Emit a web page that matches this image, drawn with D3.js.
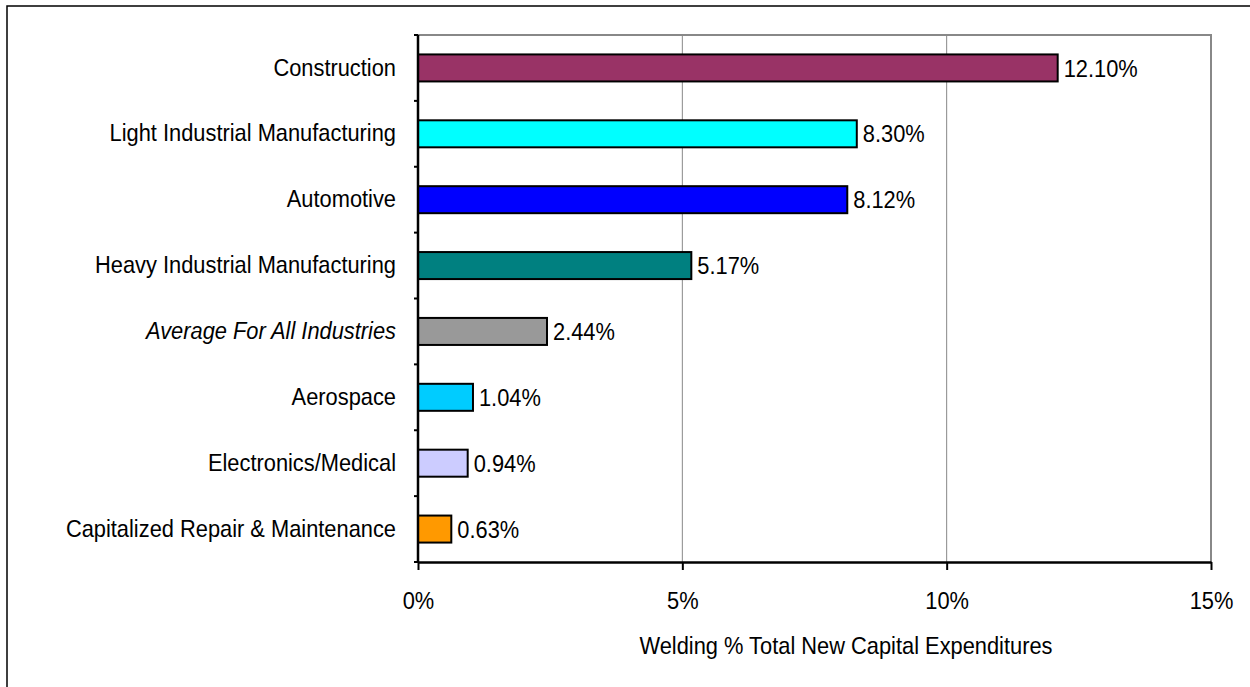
<!DOCTYPE html>
<html><head><meta charset="utf-8">
<script src="https://cdn.jsdelivr.net/npm/d3@7"></script>
<style>
html,body{margin:0;padding:0;background:#fff;}
svg{display:block;font-family:"Liberation Sans",Arial,sans-serif;}
</style></head>
<body><svg id="c" width="1250" height="687"></svg>
<script>
const categories = ["Construction","Light Industrial Manufacturing","Automotive","Heavy Industrial Manufacturing","Average For All Industries","Aerospace","Electronics/Medical","Capitalized Repair & Maintenance"];
const values = [12.10, 8.30, 8.12, 5.17, 2.44, 1.04, 0.94, 0.63];
const valueLabels = ["12.10%","8.30%","8.12%","5.17%","2.44%","1.04%","0.94%","0.63%"];
const colors = ["#993366","#00FFFF","#0000FF","#008080","#999999","#00CCFF","#CCCCFF","#FF9900"];
const xTicks = [0, 5, 10, 15];
const xTitle = "Welding % Total New Capital Expenditures";

const svg = d3.select("#c");
const L = 418, R = 1211, T = 35, B = 562;
const fs = 24, sx = 0.91;

function squeeze(sel){
  sel.each(function(){
    const t = d3.select(this);
    const xv = +(t.attr("x")||0);
    t.attr("x", xv/sx).attr("transform", `scale(${sx},1)`);
  });
}

// outer frame
svg.append("rect").attr("x",7).attr("y",6).attr("width",1300).attr("height",700)
  .attr("fill","none").attr("stroke","#000").attr("stroke-width",1.5);

const x = d3.scaleLinear().domain([0,15]).range([L,R]);
const pad = 0.59;
const y = d3.scaleBand().domain(categories).range([T,B]).paddingInner(pad).paddingOuter(pad/2);

// gridlines
svg.append("g").selectAll("line").data(xTicks.filter(d=>d>0 && d<15)).join("line")
  .attr("x1",d=>x(d)).attr("x2",d=>x(d)).attr("y1",T).attr("y2",B)
  .attr("stroke","#888").attr("stroke-width",1);

// plot border top & right
svg.append("path").attr("d",`M${L},${T}H${R}V${B}`).attr("fill","none")
  .attr("stroke","#888").attr("stroke-width",2);

// bars
svg.append("g").selectAll("rect").data(categories).join("rect")
  .attr("x",x(0)).attr("y",d=>y(d))
  .attr("width",(d,i)=>x(values[i])-x(0)).attr("height",y.bandwidth())
  .attr("fill",(d,i)=>colors[i]).attr("stroke","#000").attr("stroke-width",2);

// value labels
svg.append("g").selectAll("text").data(categories).join("text")
  .attr("x",(d,i)=>x(values[i])+6).attr("y",d=>y(d)+y.bandwidth()/2)
  .attr("dy","0.36em").attr("font-size",fs).attr("fill","#000")
  .text((d,i)=>valueLabels[i]).call(squeeze);

// y axis
const ya = svg.append("g").attr("transform",`translate(${L},0)`)
  .call(d3.axisLeft(y).tickSize(0).tickPadding(22));
ya.select(".domain").remove();
ya.selectAll("text").attr("font-size",fs).attr("fill","#000")
  .attr("font-family","Liberation Sans, Arial, sans-serif")
  .style("font-style",d=>d==="Average For All Industries"?"italic":"normal")
  .call(squeeze);
const bounds = d3.range(categories.length+1).map(i=>T+i*y.step());
svg.append("g").selectAll("line").data(bounds).join("line")
  .attr("x1",L-4).attr("x2",L).attr("y1",d=>d).attr("y2",d=>d)
  .attr("stroke","#000").attr("stroke-width",2);
svg.append("line").attr("x1",L).attr("x2",L).attr("y1",T).attr("y2",B)
  .attr("stroke","#000").attr("stroke-width",2.5);

// x axis
const xa = svg.append("g").attr("transform",`translate(0,${B})`)
  .call(d3.axisBottom(x).tickValues(xTicks).tickFormat(d=>d+"%").tickSize(8).tickSizeOuter(0).tickPadding(22));
xa.select(".domain").attr("stroke","#000").attr("stroke-width",2.5);
xa.selectAll(".tick line").attr("stroke","#000").attr("stroke-width",2);
xa.selectAll("text").attr("font-size",fs).attr("fill","#000")
  .attr("font-family","Liberation Sans, Arial, sans-serif").call(squeeze);

svg.append("text").attr("x",846).attr("y",645).attr("dy","0.36em")
  .attr("text-anchor","middle").attr("font-size",fs).attr("fill","#000").text(xTitle).call(squeeze);
</script></body></html>
